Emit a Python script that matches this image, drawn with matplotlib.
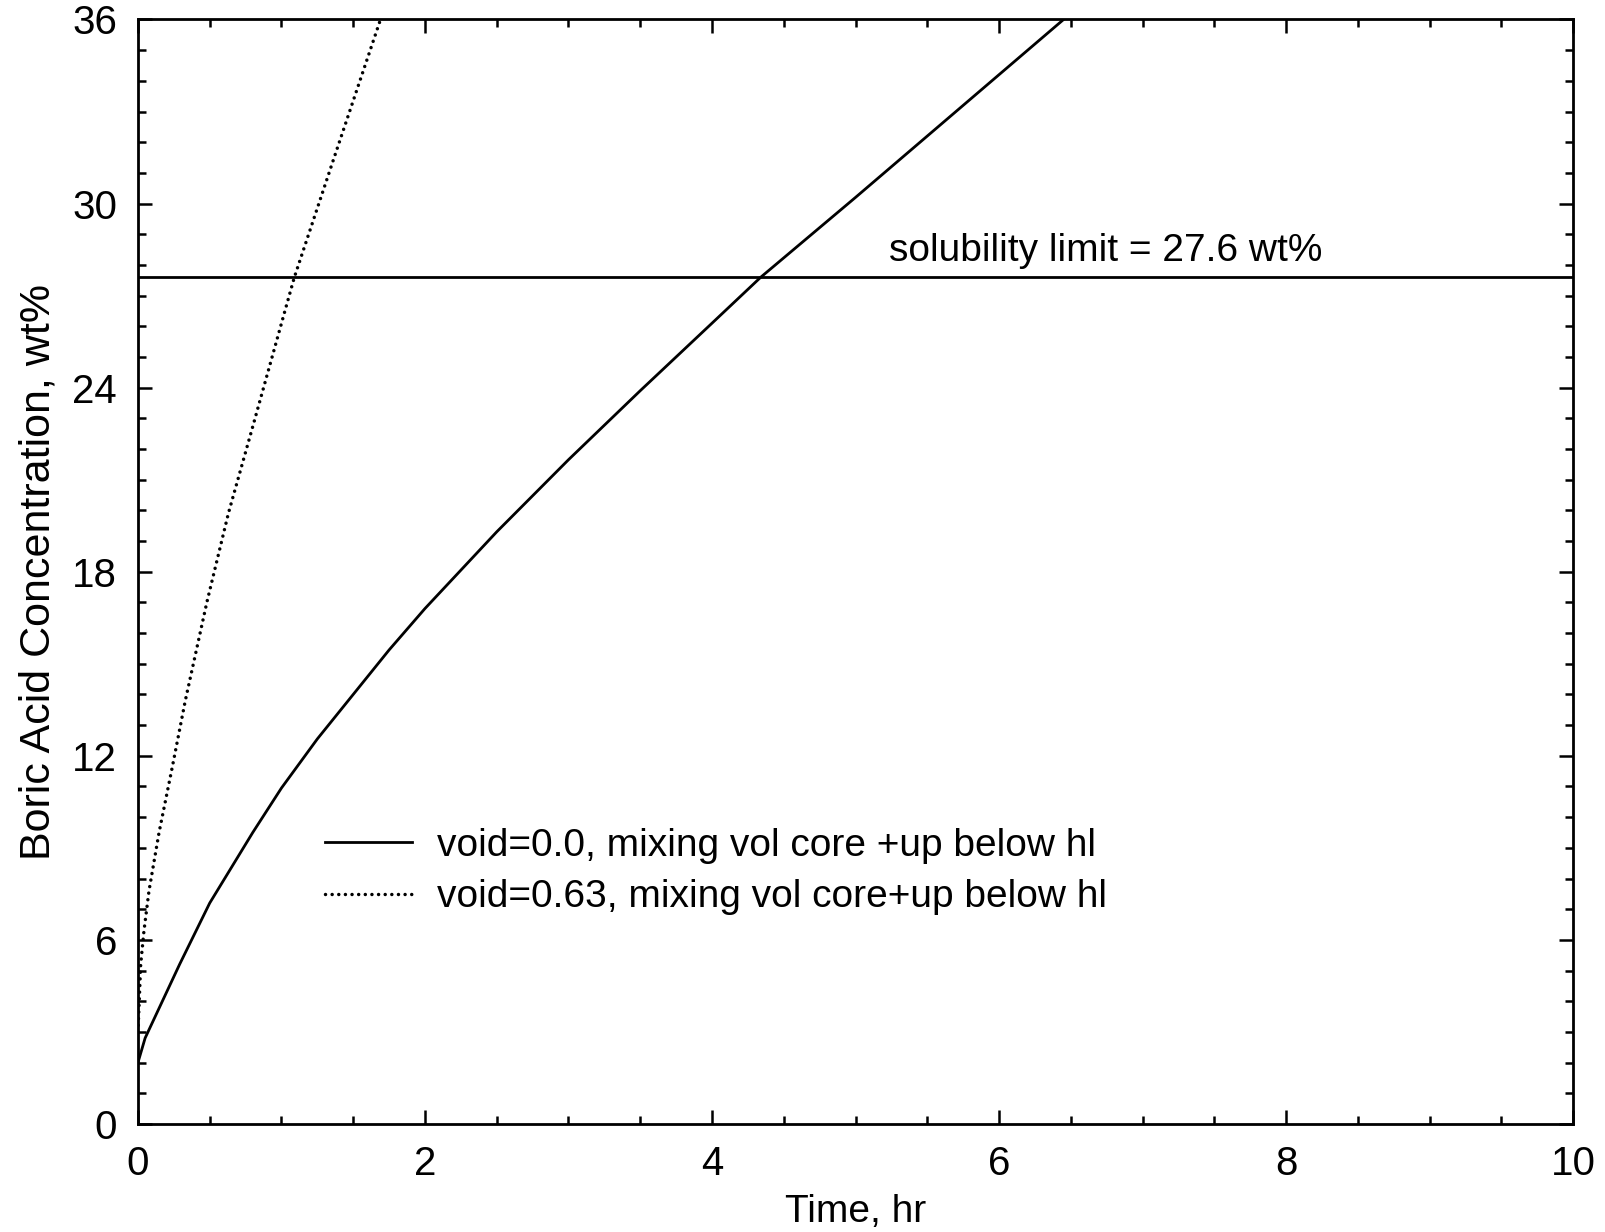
import matplotlib
matplotlib.use("Agg")
import matplotlib.pyplot as plt
from matplotlib.ticker import MultipleLocator

# Data
t_void0 = [0.0, 0.05, 0.17, 0.29, 0.5, 0.8, 1.0, 1.25, 1.5, 1.75, 2.0, 2.5,
           3.0, 3.5, 4.0, 4.34, 5.0, 5.5, 6.0, 6.45]
c_void0 = [2.0, 2.8, 4.0, 5.2, 7.2, 9.5, 10.95, 12.55, 14.0, 15.45, 16.8, 19.3,
           21.65, 23.9, 26.1, 27.6, 30.2, 32.2, 34.2, 36.0]

t_void63 = [0.0, 0.008, 0.019, 0.042, 0.077, 0.147, 0.24, 0.33, 0.48, 0.63,
            0.81, 1.03, 1.09, 1.36, 1.69]
c_void63 = [3.0, 3.9, 5.2, 6.3, 7.6, 9.5, 11.65, 13.8, 17.0, 19.9, 22.9, 26.6,
            27.6, 31.4, 36.0]

solubility_limit = 27.6
labels = ["void=0.0, mixing vol core +up below hl",
          "void=0.63, mixing vol core+up below hl"]
limit_text = "solubility limit = 27.6 wt%"
x_label = "Time, hr"
y_label = "Boric Acid Concentration, wt%"
x_ticks = [0, 2, 4, 6, 8, 10]
y_ticks = [0, 6, 12, 18, 24, 30, 36]

plt.rcParams['font.family'] = ['Liberation Sans', 'DejaVu Sans']

fig = plt.figure(figsize=(16.06, 12.32), dpi=100)
ax = fig.add_axes([0.0859, 0.0877, 0.8936, 0.8965])

ax.plot(t_void0, c_void0, color='black', lw=2.0, label=labels[0])
ax.plot(t_void63, c_void63, color='black', lw=2.5, linestyle=(0, (0.01, 1.9)),
        dash_capstyle='round', label=labels[1])
ax.axhline(solubility_limit, color='black', lw=2.0)

ax.text(5.23, 28.45, limit_text, fontsize=28, ha='left', va='center')

ax.set_xlim(0, 10)
ax.set_ylim(0, 36)
ax.set_xticks(x_ticks)
ax.set_yticks(y_ticks)
ax.xaxis.set_minor_locator(MultipleLocator(0.5))
ax.yaxis.set_minor_locator(MultipleLocator(1))
ax.tick_params(which='both', direction='in', top=True, right=True,
               width=1.8, labelsize=29, pad=15)
ax.tick_params(which='major', length=10)
ax.tick_params(which='minor', length=6)
for s in ax.spines.values():
    s.set_linewidth(2.0)

ax.set_xlabel(x_label, fontsize=28, labelpad=8)
ax.set_ylabel(y_label, fontsize=31, labelpad=10)

leg = ax.legend(loc='upper left', bbox_to_anchor=(0.1304, 0.268), frameon=False,
                fontsize=28, handlelength=2.23, handletextpad=0.64,
                labelspacing=0.39, borderpad=0, borderaxespad=0)

fig.savefig("out.png", dpi=100, facecolor='white')
